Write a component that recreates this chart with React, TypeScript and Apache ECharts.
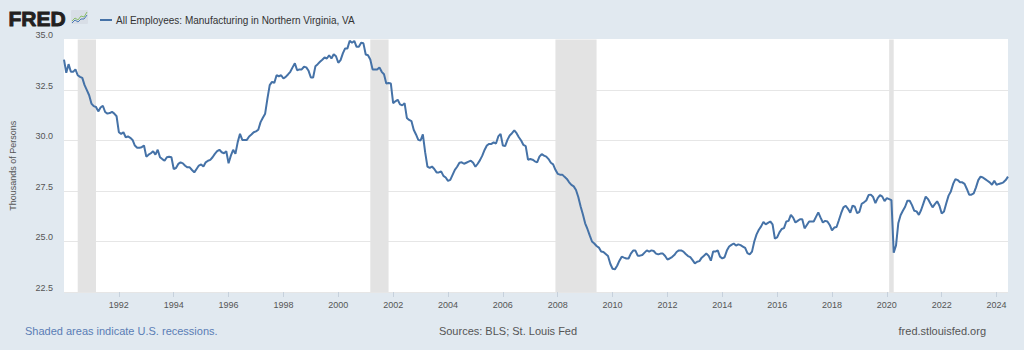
import React, { useEffect, useRef } from "react";
import * as echarts from "echarts";

const startYear = 1990;
const seriesName = "All Employees: Manufacturing in Northern Virginia, VA";

// Monthly values, thousands of persons (Jan 1990 - Jun 2024)
const values1990s = [
  34.0, 33.35, 33.78, 33.4, 33.4, 33.52, 33.23, 33.15, 33.1, 32.74, 32.49, 32.24,
  31.83, 31.7, 31.66, 31.44, 31.63, 31.72, 31.41, 31.33, 31.36, 31.42, 31.33, 31.2,
  30.41, 30.33, 30.41, 30.16, 30.2, 30.13, 30.03, 29.75, 29.64, 29.64, 29.67, 29.75,
  29.2, 29.3, 29.37, 29.47, 29.3, 29.54, 29.17, 29.08, 29.0, 29.17, 29.2, 29.17,
  28.59, 28.64, 28.84, 28.92, 28.87, 28.75, 28.67, 28.67, 28.54, 28.42, 28.59, 28.76,
  28.81, 28.71, 28.92, 29.0, 29.04, 29.17, 29.34, 29.47, 29.54, 29.42, 29.37, 29.47,
  28.87, 29.25, 29.54, 29.34, 29.92, 30.33, 30.03, 30.03, 30.03, 30.2, 30.3, 30.41,
  30.45, 30.53, 30.91, 31.13, 31.33, 32.07, 32.74, 32.9, 32.85, 33.23, 33.18, 33.23,
  33.07, 33.15, 33.27, 33.4, 33.62, 33.82, 33.48, 33.52, 33.52, 33.65, 33.62, 33.45,
  33.12, 33.12, 33.68, 33.78, 33.9, 34.0, 34.11, 34.06, 34.22, 34.06, 34.27, 34.17,
];
const values2000s = [
  33.85, 33.98, 34.31, 34.56, 34.56, 34.94, 34.84, 34.93, 34.64, 34.64, 34.84, 34.81,
  34.26, 34.22, 34.01, 33.52, 33.52, 33.52, 33.62, 33.4, 33.28, 32.82, 32.85, 32.82,
  31.85, 31.94, 32.02, 31.79, 31.74, 31.85, 31.12, 31.02, 30.96, 30.53, 30.3, 30.03,
  30.0, 30.3, 29.42, 28.71, 28.64, 28.71, 28.59, 28.42, 28.42, 28.47, 28.25, 28.17,
  28.0, 28.05, 28.3, 28.55, 28.7, 28.9, 28.92, 28.85, 28.9, 28.95, 29.0, 28.9,
  28.7, 28.85, 29.03, 29.25, 29.53, 29.75, 29.83, 29.83, 29.91, 29.85, 30.2, 30.33,
  29.75, 29.72, 30.03, 30.25, 30.36, 30.5, 30.36, 30.16, 30.0, 29.78, 29.72, 29.05,
  29.08, 29.05, 28.97, 28.92, 29.2, 29.33, 29.25, 29.2, 29.08, 28.9, 28.82, 28.55,
  28.35, 28.31, 28.31, 28.2, 28.1, 27.93, 27.8, 27.73, 27.55, 27.2, 26.75, 26.35,
  25.9, 25.62, 25.3, 25.0, 24.9, 24.78, 24.7, 24.5, 24.48, 24.38, 24.28, 23.9,
];
const values2010s = [
  23.65, 23.62, 23.8, 24.05, 24.25, 24.2, 24.16, 24.16, 24.4, 24.55, 24.55, 24.3,
  24.3, 24.33, 24.45, 24.56, 24.5, 24.56, 24.53, 24.4, 24.36, 24.4, 24.4, 24.28,
  24.11, 24.16, 24.23, 24.33, 24.48, 24.56, 24.56, 24.5, 24.38, 24.28, 24.23, 24.08,
  23.92, 24.0, 24.03, 24.2, 24.3, 24.4, 24.3, 24.05, 24.5, 24.5, 24.56, 24.25,
  24.16, 24.22, 24.55, 24.75, 24.83, 24.9, 24.8, 24.86, 24.82, 24.75, 24.68, 24.42,
  24.36, 24.5, 25.0, 25.35, 25.58, 25.75, 25.97, 25.85, 25.92, 25.99, 25.85, 25.15,
  25.2, 25.45, 25.62, 25.66, 25.99, 26.02, 26.32, 26.18, 25.94, 26.02, 26.1, 26.1,
  25.65, 25.82, 25.99, 25.99, 25.99, 26.22, 26.44, 26.18, 25.94, 26.02, 25.99, 25.82,
  25.55, 25.69, 25.72, 26.05, 26.4, 26.69, 26.77, 26.62, 26.42, 26.78, 26.72, 26.4,
  26.47, 26.87, 26.94, 27.03, 27.3, 27.32, 27.2, 26.9, 27.15, 27.3, 27.22, 27.0,
];
const values2020s = [
  27.15, 27.1, 27.05, 24.44, 24.8, 25.9, 26.3, 26.52, 26.72, 27.02, 27.02, 26.8,
  26.52, 26.49, 26.32, 26.56, 26.89, 27.22, 27.1, 26.89, 26.69, 26.85, 26.99, 26.77,
  26.39, 26.49, 26.89, 27.27, 27.48, 27.85, 28.09, 28.04, 27.93, 27.93, 27.85, 27.6,
  27.32, 27.32, 27.38, 27.68, 28.04, 28.21, 28.17, 28.09, 28.01, 27.93, 27.81, 28.01,
  27.81, 27.85, 27.88, 27.93, 28.04, 28.21,
];

const yMin = 22.5;
const yMax = 35;
const yStep = 2.5;

const recessions = [
  ["1990-07", "1991-03"],
  ["2001-03", "2001-11"],
  ["2007-12", "2009-06"],
  ["2020-02", "2020-04"],
];

const FONT = "'Liberation Sans', Arial, Helvetica, sans-serif";

export default function App() {
  const ref = useRef<HTMLDivElement>(null);

  useEffect(() => {
    document.body.style.margin = "0";
    const chart = echarts.init(ref.current!, null, { renderer: "svg" });
    const values = [...values1990s, ...values2000s, ...values2010s, ...values2020s];
    const months = values.map(
      (_, i) => `${startYear + Math.floor(i / 12)}-${String((i % 12) + 1).padStart(2, "0")}`
    );
    const isYearTick = (_idx: number, val: string) => {
      const y = Number(val.slice(0, 4));
      return val.endsWith("-01") && y % 2 === 0 && y > startYear;
    };

    chart.setOption({
      animation: false,
      backgroundColor: "#e1e9f0",
      textStyle: { fontFamily: FONT },
      legend: {
        show: true,
        left: 95,
        top: 9,
        icon: "rect",
        itemWidth: 12,
        itemHeight: 2,
        itemGap: 5,
        selectedMode: false,
        textStyle: { fontSize: 10, color: "#333", fontFamily: FONT, lineHeight: 12, padding: [0, 0, 0, -1] },
        data: [seriesName],
      },
      grid: {
        left: 62,
        right: 16,
        top: 39.5,
        bottom: 58,
        show: true,
        backgroundColor: "#ffffff",
        borderWidth: 0,
        containLabel: false,
      },
      xAxis: {
        type: "category",
        data: months,
        boundaryGap: false,
        axisLine: { show: false },
        axisTick: {
          show: true,
          interval: isYearTick,
          length: 5,
          lineStyle: { color: "#c7d1dc", width: 1 },
        },
        axisLabel: {
          interval: isYearTick,
          formatter: (v: string) => v.slice(0, 4),
          color: "#555",
          fontSize: 9,
          fontFamily: FONT,
          margin: 8,
        },
        splitLine: { show: false },
      },
      yAxis: {
        type: "value",
        min: yMin,
        max: yMax,
        interval: yStep,
        name: "Thousands of Persons",
        nameLocation: "middle",
        nameGap: 47,
        nameRotate: 90,
        nameTextStyle: { fontSize: 9, color: "#555", fontFamily: FONT },
        axisLine: { show: false },
        axisTick: { show: false },
        axisLabel: {
          formatter: (v: number) => v.toFixed(1),
          color: "#555",
          fontSize: 9,
          fontFamily: FONT,
          margin: 11,
          verticalAlign: "bottom",
        },
        splitLine: {
          show: true,
          lineStyle: { color: ["#e6e6e6", "#e6e6e6", "#e6e6e6", "#e6e6e6", "#e6e6e6", "#ffffff"], width: 1 },
        },
      },
      series: [
        {
          name: seriesName,
          type: "line",
          data: values,
          showSymbol: false,
          symbol: "none",
          lineStyle: { color: "#4572a7", width: 2 },
          itemStyle: { color: "#4572a7" },
          markArea: {
            silent: true,
            itemStyle: { color: "#e3e3e3", opacity: 1 },
            data: recessions.map(([a, b]) => [{ xAxis: a }, { xAxis: b }]),
          },
          z: 3,
        },
      ],
      graphic: [
        {
          type: "text",
          left: 8,
          top: 8,
          style: {
            text: "FRED",
            font: `bold 21px ${FONT}`,
            fill: "#231f20",
            stroke: "#231f20",
            lineWidth: 0.9,
          },
        },
        {
          type: "rect",
          shape: { x: 71, y: 10, width: 17, height: 14, r: 1 },
          style: { fill: "#d8dee6" },
        },
        {
          type: "polyline",
          shape: { points: [[72, 21], [75, 18], [78, 20], [81, 16], [84, 17], [87, 12]] },
          style: { stroke: "#8bbf6a", lineWidth: 1, fill: "none" },
        },
        {
          type: "polyline",
          shape: { points: [[72, 23], [75, 20], [78, 22], [81, 19], [84, 19], [87, 15]] },
          style: { stroke: "#4a78b5", lineWidth: 1, fill: "none" },
        },
        {
          type: "text",
          x: 25,
          y: 331,
          style: {
            text: "Shaded areas indicate U.S. recessions.",
            font: `11px ${FONT}`,
            fill: "#5a7db5",
            align: "left",
            verticalAlign: "middle",
            textAlign: "left",
            textVerticalAlign: "middle",
          },
        },
        {
          type: "text",
          x: 508,
          y: 331,
          style: {
            text: "Sources: BLS; St. Louis Fed",
            font: `11px ${FONT}`,
            fill: "#555",
            align: "center",
            verticalAlign: "middle",
            textAlign: "center",
            textVerticalAlign: "middle",
          },
        },
        {
          type: "text",
          x: 986,
          y: 331,
          style: {
            text: "fred.stlouisfed.org",
            font: `11px ${FONT}`,
            fill: "#555",
            align: "right",
            verticalAlign: "middle",
            textAlign: "right",
            textVerticalAlign: "middle",
          },
        },
      ],
    });
    return () => chart.dispose();
  }, []);

  return (
    <div
      ref={ref}
      style={{ position: "absolute", left: 0, top: 0, width: 1024, height: 350, background: "#e1e9f0" }}
    />
  );
}
